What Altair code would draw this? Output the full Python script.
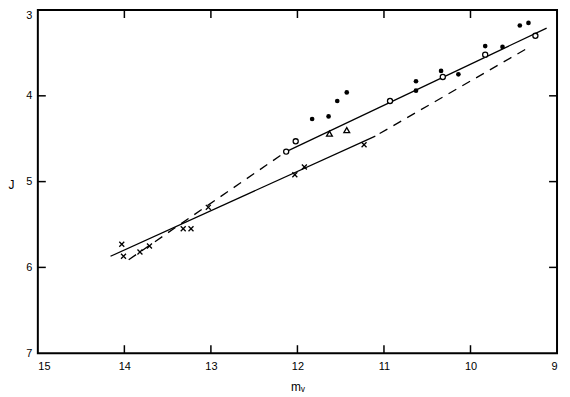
import altair as alt
import pandas as pd

# ---- data ----
filled_m = [11.83, 11.64, 11.54, 11.43, 10.63, 10.63, 10.34, 10.14, 9.83, 9.63, 9.43, 9.33]
filled_J = [4.27, 4.24, 4.06, 3.96, 3.83, 3.94, 3.71, 3.75, 3.42, 3.43, 3.18, 3.15]
open_m = [12.13, 12.02, 10.93, 10.32, 9.83, 9.25]
open_J = [4.65, 4.53, 4.06, 3.78, 3.52, 3.30]
tri_m = [11.63, 11.43]
tri_J = [4.44, 4.40]
cross_m = [14.03, 14.01, 13.82, 13.71, 13.32, 13.23, 13.03, 12.03, 11.92, 11.23]
cross_J = [5.73, 5.87, 5.82, 5.75, 5.55, 5.55, 5.30, 4.92, 4.83, 4.57]

solid_seg = ["A", "A", "B", "B"]
solid_m = [12.13, 9.12, 14.16, 11.10]
solid_J = [4.65, 3.21, 5.87, 4.47]
dashed_seg = ["C", "C", "D", "D"]
dashed_m = [13.95, 12.13, 11.05, 9.30]
dashed_J = [5.91, 4.65, 4.44, 3.42]

x_ticks = [15, 14, 13, 12, 11, 10, 9]
y_ticks = [3, 4, 5, 6, 7]
x_inner = [14, 13, 12, 11, 10]
y_inner = [4, 5, 6]

W, H = 522, 345
FONT = "Liberation Sans"

filled = pd.DataFrame({"m": filled_m, "J": filled_J})
opened = pd.DataFrame({"m": open_m, "J": open_J})
tri = pd.DataFrame({"m": tri_m, "J": tri_J})
cross = pd.DataFrame({"m": cross_m, "J": cross_J})
solid = pd.DataFrame({"seg": solid_seg, "m": solid_m, "J": solid_J})
dashed = pd.DataFrame({"seg": dashed_seg, "m": dashed_m, "J": dashed_J})
xt = pd.DataFrame({"v": x_inner})
yt = pd.DataFrame({"v": y_inner})

xs = alt.Scale(domain=[15, 9], nice=False, zero=False)
ys = alt.Scale(domain=[3, 7], reverse=True, nice=False, zero=False)

x_axis = alt.Axis(values=x_ticks, title="mᵥ", ticks=False, domain=False, grid=False,
                  labelPadding=7, titlePadding=11, format="d")
y_axis = alt.Axis(values=y_ticks, title="J", ticks=False, domain=False, grid=False,
                  labelPadding=6, format="d",
                  labelBaseline={"condition": {"test": "datum.value == 3", "value": "top"}, "value": "middle"},
                  titleAngle=0, titleX=-30, titleY=175, titleAlign="left", titleBaseline="middle")

enc_xy = dict(
    x=alt.X("m:Q", scale=xs, axis=x_axis),
    y=alt.Y("J:Q", scale=ys, axis=y_axis),
)

lines_solid = alt.Chart(solid).mark_line(color="black", strokeWidth=1.3).encode(detail="seg:N", **enc_xy)
lines_dashed = alt.Chart(dashed).mark_line(color="black", strokeWidth=1.3, strokeDash=[9, 7]).encode(
    detail="seg:N", **enc_xy)
pts_filled = alt.Chart(filled).mark_point(shape="circle", filled=True, color="black", size=22,
                                           opacity=1).encode(**enc_xy)
pts_open = alt.Chart(opened).mark_point(shape="circle", filled=False, fill="white", stroke="black",
                                         strokeWidth=1.3, size=26, opacity=1, fillOpacity=1).encode(**enc_xy)
pts_tri = alt.Chart(tri).mark_point(shape="triangle-up", filled=False, fill="white", stroke="black",
                                     strokeWidth=1.3, size=34, opacity=1, fillOpacity=1).encode(**enc_xy)
pts_cross = alt.Chart(cross).mark_point(shape="M-1,-1L1,1M-1,1L1,-1", filled=False, stroke="black",
                                         strokeWidth=1.3, size=25, opacity=1).encode(**enc_xy)

tick_b = alt.Chart(xt).mark_rule(color="black", strokeWidth=1.5).encode(
    x=alt.X("v:Q", scale=xs, axis=x_axis), y=alt.value(H), y2=alt.value(H - 8))
tick_t = alt.Chart(xt).mark_rule(color="black", strokeWidth=1.5).encode(
    x=alt.X("v:Q", scale=xs, axis=x_axis), y=alt.value(0), y2=alt.value(8))
tick_l = alt.Chart(yt).mark_rule(color="black", strokeWidth=1.5).encode(
    y=alt.Y("v:Q", scale=ys, axis=y_axis), x=alt.value(0), x2=alt.value(8))
tick_r = alt.Chart(yt).mark_rule(color="black", strokeWidth=1.5).encode(
    y=alt.Y("v:Q", scale=ys, axis=y_axis), x=alt.value(W), x2=alt.value(W - 8))

chart = alt.layer(
    lines_solid, lines_dashed, pts_filled, pts_open, pts_tri, pts_cross,
    tick_b, tick_t, tick_l, tick_r,
).properties(
    width=W, height=H,
    padding={"left": 0, "top": 0, "right": 4, "bottom": 0},
    background="white",
).configure_view(
    stroke="black", strokeWidth=2
).configure_axis(
    labelFont=FONT, titleFont=FONT, labelFontSize=11, titleFontSize=12,
    titleFontWeight="normal", labelColor="black", titleColor="black",
)

chart.save("out.html", embed_options={"renderer": "svg", "actions": False})
